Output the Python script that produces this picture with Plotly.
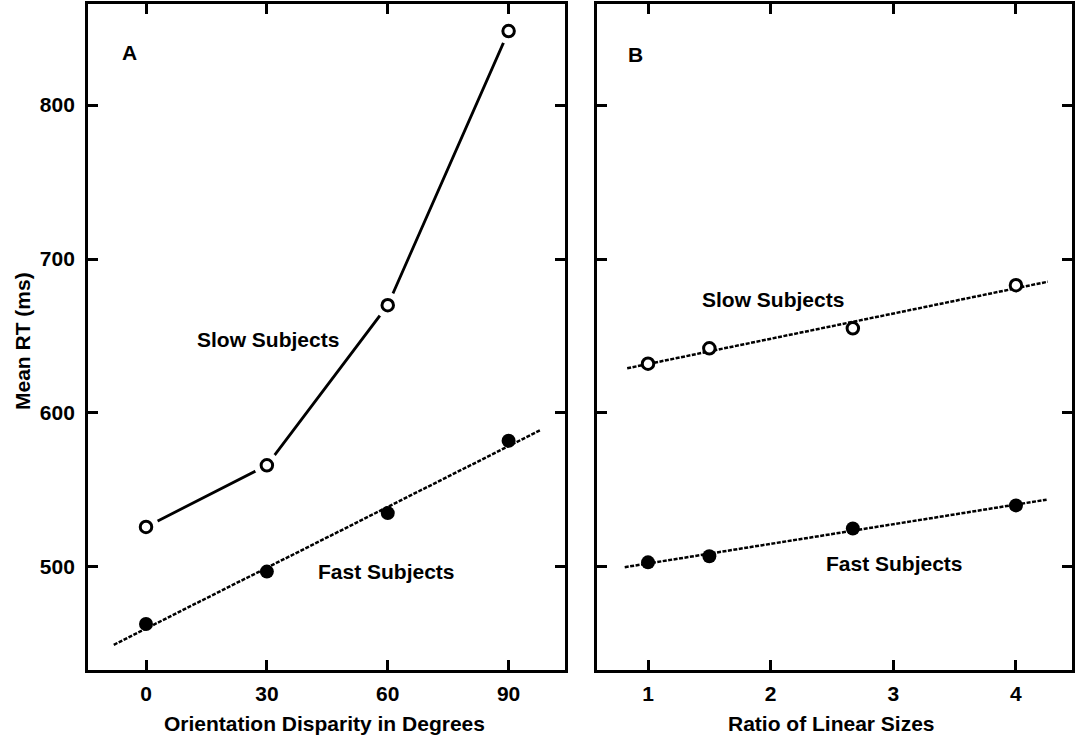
import numpy as np
import plotly.graph_objects as go

# Panel A: orientation disparity (degrees) vs mean RT (ms)
disparity = [0, 30, 60, 90]
slow_a = [526, 566, 670, 848]
fast_a = [463, 497, 535, 582]
fit_span_a = [-8, 98]

# Panel B: ratio of linear sizes vs mean RT (ms)
size_ratio = [1, 1.5, 2.67, 4]
slow_b = [632, 642, 655, 683]
fast_b = [503, 507, 525, 540]
fit_span_b_slow = [0.83, 4.26]
fit_span_b_fast = [0.81, 4.25]

x_ticks_a = [0, 30, 60, 90]
x_ticks_b = [1, 2, 3, 4]
y_ticks = [500, 600, 700, 800]

FONT = "Liberation Sans, Arial, Helvetica, sans-serif"
FS = 21
INK = "black"


def fit_line(xs, ys, span):
    slope, icpt = np.polyfit(xs, ys, 1)
    sx = np.array(span, dtype=float)
    return sx, slope * sx + icpt


fig = go.Figure()

# ---- Panel A ----
fx, fy = fit_line(disparity, fast_a, fit_span_a)
fig.add_trace(go.Scatter(x=fx, y=fy, mode="lines", xaxis="x", yaxis="y",
                         line=dict(color=INK, width=2.5, dash="4px,1.5px")))
fig.add_trace(go.Scatter(x=disparity, y=slow_a, mode="lines", xaxis="x", yaxis="y",
                         line=dict(color=INK, width=2.8)))
# white halo leaves a small gap between the slow curve and its markers
fig.add_trace(go.Scatter(x=disparity, y=slow_a, mode="markers", xaxis="x", yaxis="y",
                         marker=dict(size=26, color="white", line=dict(width=0))))
fig.add_trace(go.Scatter(x=disparity, y=slow_a, mode="markers", xaxis="x", yaxis="y",
                         marker=dict(size=11.5, color="white", line=dict(color=INK, width=3))))
fig.add_trace(go.Scatter(x=disparity, y=fast_a, mode="markers", xaxis="x", yaxis="y",
                         marker=dict(size=14, color=INK, line=dict(width=0))))

# ---- Panel B ----
sx, sy = fit_line(size_ratio, slow_b, fit_span_b_slow)
fig.add_trace(go.Scatter(x=sx, y=sy, mode="lines", xaxis="x2", yaxis="y2",
                         line=dict(color=INK, width=2.5, dash="4px,1.5px")))
qx, qy = fit_line(size_ratio, fast_b, fit_span_b_fast)
fig.add_trace(go.Scatter(x=qx, y=qy, mode="lines", xaxis="x2", yaxis="y2",
                         line=dict(color=INK, width=2.5, dash="4px,1.5px")))
fig.add_trace(go.Scatter(x=size_ratio, y=slow_b, mode="markers", xaxis="x2", yaxis="y2",
                         marker=dict(size=11.5, color="white", line=dict(color=INK, width=3))))
fig.add_trace(go.Scatter(x=size_ratio, y=fast_b, mode="markers", xaxis="x2", yaxis="y2",
                         marker=dict(size=14, color=INK, line=dict(width=0))))

W, H = 1076, 741
dom_y = [1 - 670 / H, 1 - 4 / H]

axis_common = dict(
    showgrid=False, zeroline=False, showline=True, linecolor=INK, linewidth=2.8,
    mirror="ticks", ticks="inside", ticklen=10, tickwidth=2.5, tickcolor=INK,
    tickfont=dict(family=FONT, size=FS, color=INK, weight="bold"),
)

fig.update_layout(
    width=W, height=H, margin=dict(l=0, r=0, t=0, b=0),
    paper_bgcolor="white", plot_bgcolor="white", showlegend=False,
    xaxis=dict(axis_common, domain=[88 / W, 565 / W], range=[-14.4, 104.0],
               tickvals=x_ticks_a, ticklabelstandoff=3, anchor="y"),
    yaxis=dict(axis_common, domain=dom_y, range=[433.1, 865.6],
               tickvals=y_ticks, ticklabelstandoff=6, anchor="x"),
    xaxis2=dict(axis_common, domain=[597 / W, 1072 / W], range=[0.584, 4.457],
                tickvals=x_ticks_b, ticklabelstandoff=3, anchor="y2"),
    yaxis2=dict(axis_common, domain=dom_y, range=[433.1, 865.6],
                tickvals=y_ticks, showticklabels=False, anchor="x2"),
)

txt = dict(family=FONT, size=FS, color=INK, weight="bold")


def label(text, x, y, xref, yref, angle=0):
    fig.add_annotation(text=text, x=x, y=y, xref=xref, yref=yref, showarrow=False,
                       xanchor="center", yanchor="middle", textangle=angle, font=txt)


label("A", -4, 834, "x", "y")
label("Slow Subjects", 30.3, 648, "x", "y")
label("Fast Subjects", 59.8, 497, "x", "y")
label("B", 0.894, 833, "x2", "y2")
label("Slow Subjects", 2.02, 674, "x2", "y2")
label("Fast Subjects", 3.01, 502, "x2", "y2")

label("Orientation Disparity in Degrees", 324 / W, 1 - 723 / H, "paper", "paper")
label("Ratio of Linear Sizes", 831 / W, 1 - 723 / H, "paper", "paper")
label("Mean RT (ms)", 22 / W, 1 - 341 / H, "paper", "paper", angle=-90)

fig.write_html("out.html")
